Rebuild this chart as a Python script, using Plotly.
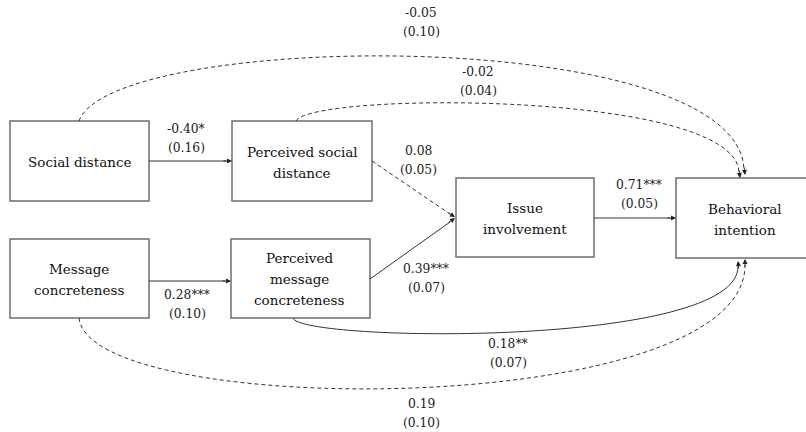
import plotly.graph_objects as go

# ---- data ----
node_names = ["Social distance", "Perceived social<br>distance",
              "Message<br>concreteness", "Perceived<br>message<br>concreteness",
              "Issue<br>involvement", "Behavioral<br>intention"]
coefs = ["-0.40*", "0.28***", "0.08", "0.39***", "0.71***", "-0.05", "-0.02", "0.18**", "0.19"]
ses = ["(0.16)", "(0.10)", "(0.05)", "(0.07)", "(0.05)", "(0.10)", "(0.04)", "(0.07)", "(0.10)"]
significant = [True, True, False, True, True, False, False, True, False]

# ---- layout geometry (pixels) ----
boxes = [(10, 121, 149, 201), (232, 121, 372, 201),
         (10, 239, 149, 318), (231, 239, 370, 318),
         (456, 178, 594, 257), (676, 178, 812, 258)]
box_text_pos = [(80, 162), (302, 152), (79, 269), (299, 258), (525, 208), (745, 209)]
box_line_gap = 21

# svg path, arrow tip, arrow tail (direction), label position (first line centre)
paths = [
    ("M 149,161 L 226,161", (232, 161), (222, 161), (186, 129)),
    ("M 149,281 L 225,281", (231, 281), (221, 281), (187, 295)),
    ("M 372,161 L 450,214", (455, 217), (447, 212), (418, 151)),
    ("M 370,279 L 450,222", (455, 218), (447, 224), (426, 269)),
    ("M 594,218 L 670,218", (676, 218), (666, 218), (639, 185)),
    ("M 79,121 C 112,30 740,24 744,170", (745, 175), (744, 166), (421, 13)),
    ("M 296,121 C 310,92 735,90 739,172", (740, 178), (739, 169), (478, 72)),
    ("M 293,318 C 300,342 740,348 738,266", (738, 261), (739, 270), (508, 344)),
    ("M 79,318 C 90,420 745,420 745,265", (745, 259), (745, 268), (421, 404)),
]
label_line_gap = 19

fig = go.Figure()
shapes = []
annotations = []
font_family = "DejaVu Serif"

for (x0, y0, x1, y1), (tx, ty), name in zip(boxes, box_text_pos, node_names):
    shapes.append(dict(type="rect", xref="x", yref="y", x0=x0, y0=y0, x1=x1, y1=y1,
                       line=dict(color="#6e6e6e", width=1.5), fillcolor="white", layer="below"))
    for i, line in enumerate(name.split("<br>")):
        annotations.append(dict(x=tx, y=ty + i * box_line_gap, xref="x", yref="y",
                                text=line, showarrow=False,
                                font=dict(family=font_family, size=13.5, color="#111")))

for (d, tip, tail, lab), c, s, sig in zip(paths, coefs, ses, significant):
    shapes.append(dict(type="path", xref="x", yref="y", path=d,
                       line=dict(color="#333", width=1, dash="solid" if sig else "4px,3px")))
    annotations.append(dict(x=tip[0], y=tip[1], ax=tail[0], ay=tail[1], axref="x", ayref="y",
                            xref="x", yref="y", text="", showarrow=True, arrowhead=2,
                            arrowsize=1.0, arrowwidth=1, arrowcolor="#222", standoff=0))
    for i, line in enumerate([c, s]):
        annotations.append(dict(x=lab[0], y=lab[1] + i * label_line_gap, xref="x", yref="y",
                                text=line, showarrow=False,
                                font=dict(family=font_family, size=12.3, color="#222")))

fig.update_layout(
    width=806, height=432, margin=dict(l=0, r=0, t=0, b=0),
    paper_bgcolor="white", plot_bgcolor="white",
    font=dict(family=font_family),
    xaxis=dict(range=[0, 806], visible=False, fixedrange=True),
    yaxis=dict(range=[432, 0], visible=False, fixedrange=True),
    shapes=shapes, annotations=annotations, showlegend=False,
)
fig.write_html("out.html", config={"displayModeBar": False},
               post_script="document.body.style.margin='0';document.body.style.overflow='hidden';")
